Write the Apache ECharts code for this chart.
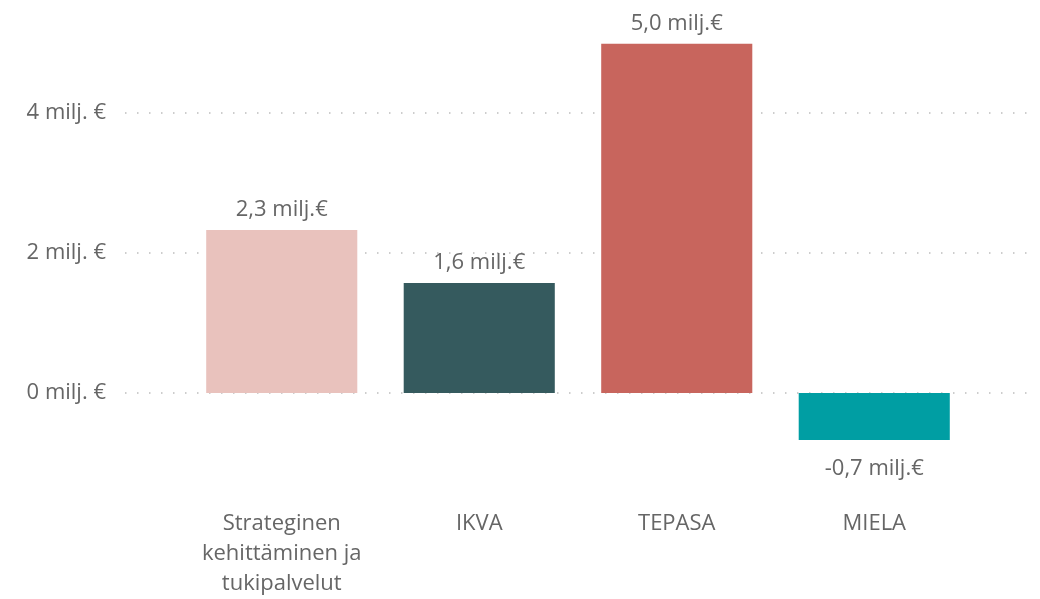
<!DOCTYPE html>
<html><head><meta charset="utf-8">
<script src="https://cdn.jsdelivr.net/npm/echarts@6/dist/echarts.min.js"></script>
<style>html,body{margin:0;padding:0;background:#fff}#c{width:1040px;height:599px}</style>
</head><body><div id="c"></div>
<script>
const categories = ['Strateginen\nkehittäminen ja\ntukipalvelut', 'IKVA', 'TEPASA', 'MIELA'];
const values = [2.33, 1.57, 4.99, -0.67];
const colors = ['#E9C2BD', '#355A5E', '#C8655D', '#009EA3'];
const yTicks = [0, 2, 4];
const font = '"Open Sans", "Noto Sans", sans-serif';
const txt = '#666666';
const fmt = v => v.toFixed(1).replace('.', ',') + ' milj.€';

const chart = echarts.init(document.getElementById('c'), null, {renderer: 'canvas'});
chart.setOption({
  animation: false,
  grid: [
    {left: 125, right: 10, top: 113, bottom: 206, outerBoundsMode: 'none', containLabel: false},
    {left: 183, right: 67, top: 43, bottom: 136, outerBoundsMode: 'none', containLabel: false}
  ],
  xAxis: [
    {gridIndex: 0, type: 'value', show: false, min: 0, max: 1},
    {gridIndex: 1, type: 'category', data: categories,
     axisLine: {show: false}, axisTick: {show: false},
     axisLabel: {color: txt, fontSize: 22, fontFamily: font, lineHeight: 30, margin: 46, interval: 0}}
  ],
  yAxis: [
    {gridIndex: 0, type: 'value', min: yTicks[0], max: yTicks[yTicks.length - 1], interval: 2,
     axisLine: {show: false}, axisTick: {show: false},
     axisLabel: {color: txt, fontSize: 22, fontFamily: font, margin: 19, formatter: v => v + ' milj. €'},
     splitLine: {lineStyle: {color: '#bdbdbd', width: 1.5, type: [1.5, 10.5]}}},
    {gridIndex: 1, type: 'value', min: -1, max: 5, show: false, splitLine: {show: false}}
  ],
  series: [{
    type: 'bar', xAxisIndex: 1, yAxisIndex: 1,
    barCategoryGap: '23.5%',
    data: values.map((v, i) => ({
      value: v,
      itemStyle: {color: colors[i]},
      label: {show: true, position: v >= 0 ? 'top' : 'bottom', distance: v >= 0 ? 9 : 18,
               color: txt, fontSize: 22, fontFamily: font, formatter: p => fmt(p.value)}
    }))
  }]
});
</script></body></html>
